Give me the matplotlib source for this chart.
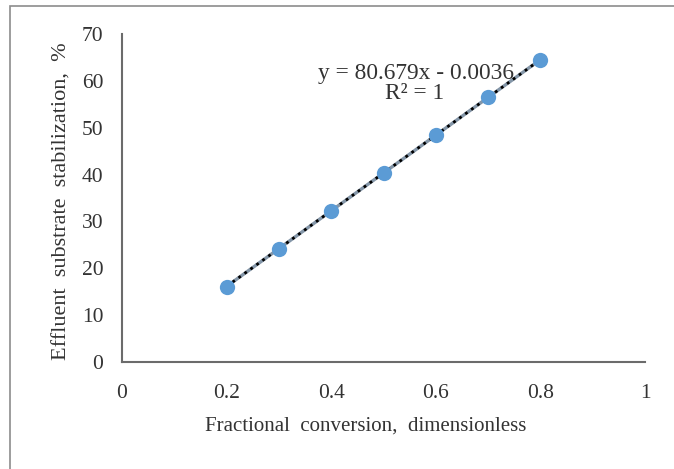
import numpy as np
import matplotlib
matplotlib.use("Agg")
import matplotlib.pyplot as plt
from matplotlib.patches import Rectangle

# data
conversion = [0.2, 0.3, 0.4, 0.5, 0.6, 0.7, 0.8]
stabilization = [16.1, 24.2, 32.3, 40.3, 48.4, 56.5, 64.5]
x_ticks = [0, 0.2, 0.4, 0.6, 0.8, 1]
x_tick_labels = ["0", "0.2", "0.4", "0.6", "0.8", "1"]
y_ticks = [0, 10, 20, 30, 40, 50, 60, 70]
equation = "y = 80.679x - 0.0036"
r_squared = "R\u00b2 = 1"

plt.rcParams["font.family"] = ["Liberation Serif", "DejaVu Serif"]

W, H = 674, 469
fig = plt.figure(figsize=(W / 100, H / 100), dpi=100)

# outer chart border (only left/top visible in the crop)
fig.patches.append(Rectangle((10 / W, -0.1), 1.2, 1 - 6 / H + 0.1,
                             transform=fig.transFigure, fill=False,
                             edgecolor="#8c8c8c", linewidth=1.2))

ax = fig.add_axes([122 / W, 1 - 362 / H, (645 - 122) / W, (362 - 34) / H])

# linear trendline
coef = np.polyfit(conversion, stabilization, 1)
xs = np.array([conversion[0], conversion[-1]])
ax.plot(xs, np.polyval(coef, xs), "-", color="#8496a8", linewidth=2.4, zorder=2)
ax.plot(xs, np.polyval(coef, xs), ":", color="black", linewidth=2.0, zorder=3)

ax.plot(conversion, stabilization, "o", color="#5b9bd5", markersize=11,
        markeredgewidth=0, zorder=4)

ax.set_xlim(0, 1)
ax.set_ylim(0, 70)
ax.set_xticks(x_ticks)
ax.set_xticklabels(x_tick_labels)
ax.set_yticks(y_ticks)
ax.tick_params(length=0, labelsize=15.5, colors="#333333")
ax.tick_params(axis="x", pad=16)
ax.tick_params(axis="y", pad=13.5)

for side in ("top", "right"):
    ax.spines[side].set_visible(False)
for side in ("left", "bottom"):
    ax.spines[side].set_color("#6b6b6b")
    ax.spines[side].set_linewidth(1.5)

ax.set_xlabel("Fractional  conversion,  dimensionless", fontsize=15,
              color="#333333", va="top")
ax.xaxis.set_label_coords(0.465, -0.165)
ax.set_ylabel("Effluent  substrate  stabilization,  %", fontsize=16,
              color="#333333")
ax.yaxis.set_label_coords(-0.097, 0.49)

ax.text(0.562, 61.6, equation, fontsize=16.8, color="#333333",
        ha="center", va="center")
ax.text(0.56, 57.2, r_squared, fontsize=16.8, color="#333333",
        ha="center", va="center")

fig.savefig("out.png", dpi=100)
